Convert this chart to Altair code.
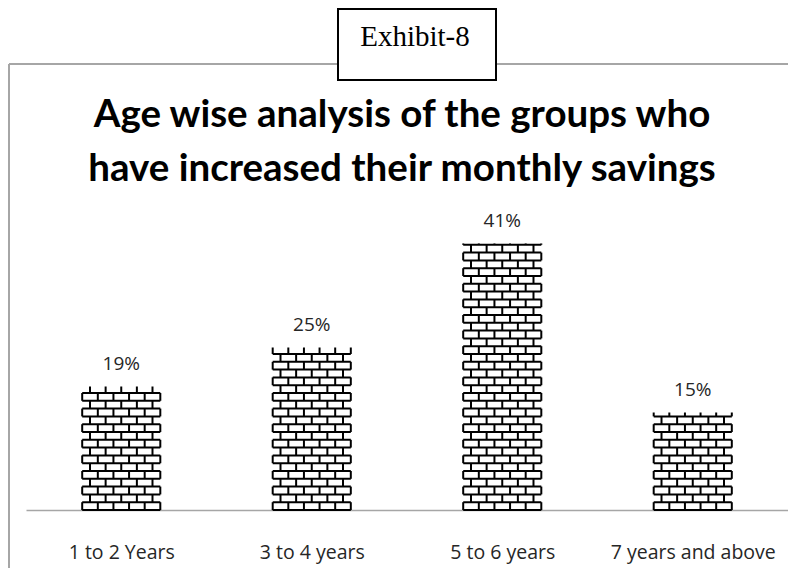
import math
import altair as alt
import pandas as pd

# ---- data ----
categories = ["1 to 2 Years", "3 to 4 years", "5 to 6 years", "7 years and above"]
values = [19, 25, 41, 15]
title_lines = ["Age wise analysis of the groups who", "have increased their monthly savings"]
exhibit_label = "Exhibit-8"

# ---- geometry helpers (in data units) ----
HALF_W = 0.205      # half bar width in category units
N_BRICKS = 5        # bricks per row
ROW_H = 1.2         # brick row height in % units
BRICK_W = 2 * HALF_W / N_BRICKS

bars = pd.DataFrame({
    "idx": list(range(len(categories))),
    "cat": categories,
    "val": values,
})
bars["x0"] = bars["idx"] - HALF_W
bars["x1"] = bars["idx"] + HALF_W
bars["label"] = [f"{v}%" for v in values]

hlines, vlines = [], []
for i, v in enumerate(values):
    left, right = i - HALF_W, i + HALF_W
    k = 0
    while k * ROW_H <= v + 1e-9:
        hlines.append({"x0": left, "x1": right, "y": k * ROW_H})
        k += 1
    nrows = math.ceil(v / ROW_H)
    for k in range(nrows):
        y0 = k * ROW_H
        y1 = min((k + 1) * ROW_H, v)
        off = (k % 2) * BRICK_W / 2
        for j in range(N_BRICKS + 2):
            x = left + off + j * BRICK_W
            if x <= right + 1e-9:
                vlines.append({"x": x, "y0": y0, "y1": y1})
hl = pd.DataFrame(hlines)
vl = pd.DataFrame(vlines)

W, H = 762, 286
xscale = alt.Scale(domain=[-0.5, len(categories) - 0.5], nice=False, zero=False)
yscale = alt.Scale(domain=[0, 44], nice=False)

label_expr = "[" + ",".join("'" + c + "'" for c in categories) + "][datum.value]"

one = pd.DataFrame({"a": [0]})

frame_top = alt.Chart(one).mark_rule(color="#a6a6a6", strokeWidth=2).encode(
    x=alt.value(-17), x2=alt.value(W), y=alt.value(-160))
frame_left = alt.Chart(one).mark_rule(color="#a6a6a6", strokeWidth=2).encode(
    x=alt.value(-17), y=alt.value(-160), y2=alt.value(344))
box = alt.Chart(one).mark_rect(fill="white", stroke="black", strokeWidth=2).encode(
    x=alt.value(312), x2=alt.value(470), y=alt.value(-215), y2=alt.value(-144))
box_text = alt.Chart(pd.DataFrame({"t": [exhibit_label]})).mark_text(
    font="Liberation Serif", fontSize=29, color="black", baseline="alphabetic", align="center"
).encode(x=alt.value(389), y=alt.value(-178), text="t:N")

title1 = alt.Chart(pd.DataFrame({"t": [title_lines[0]]})).mark_text(
    font="Lato", fontSize=38.5, fontWeight="bold", color="black",
    baseline="alphabetic", align="center"
).encode(x=alt.value(376), y=alt.value(-97), text="t:N")
title2 = alt.Chart(pd.DataFrame({"t": [title_lines[1]]})).mark_text(
    font="Lato", fontSize=38.5, fontWeight="bold", color="black",
    baseline="alphabetic", align="center"
).encode(x=alt.value(376), y=alt.value(-43), text="t:N")

bar_layer = alt.Chart(bars).mark_rect(fill="white").encode(
    x=alt.X("x0:Q", scale=xscale,
            axis=alt.Axis(values=list(range(len(categories))), labelExpr=label_expr,
                          title=None, ticks=False, grid=False, domainColor="#a6a6a6",
                          domainWidth=1.3, labelFont="Open Sans", labelFontSize=19.5,
                          labelColor="#262626", labelPadding=33, labelAngle=0)),
    x2="x1:Q",
    y=alt.Y("val:Q", scale=yscale, axis=None),
    y2=alt.datum(0),
)

h_layer = alt.Chart(hl).mark_rule(color="black", strokeWidth=2).encode(
    x=alt.X("x0:Q", scale=xscale), x2="x1:Q", y=alt.Y("y:Q", scale=yscale))
v_layer = alt.Chart(vl).mark_rule(color="black", strokeWidth=2).encode(
    x=alt.X("x:Q", scale=xscale), y=alt.Y("y0:Q", scale=yscale), y2="y1:Q")

labels = alt.Chart(bars).mark_text(
    font="Open Sans", fontSize=19, color="#262626", baseline="middle", dy=-23
).encode(x=alt.X("idx:Q", scale=xscale), y=alt.Y("val:Q", scale=yscale), text="label:N")

chart = alt.layer(
    frame_top, frame_left, box, box_text, title1, title2,
    bar_layer, h_layer, v_layer, labels
).properties(
    width=W, height=H,
    background="white",
    autosize=alt.AutoSizeParams(type="none"),
    padding={"left": 18, "top": 216, "right": 0, "bottom": 58},
).configure_view(stroke=None, strokeWidth=0)

chart.save("out.html", embed_options={"renderer": "svg", "actions": False})
